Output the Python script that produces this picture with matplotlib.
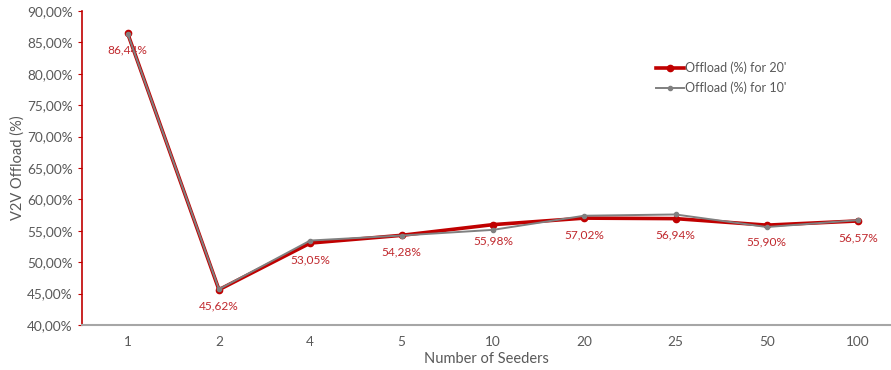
import matplotlib.pyplot as plt
from matplotlib.ticker import FuncFormatter

# datos
seeders = ['1', '2', '4', '5', '10', '20', '25', '50', '100']
offload_20 = [86.44, 45.62, 53.05, 54.28, 55.98, 57.02, 56.94, 55.90, 56.57]
offload_10 = [86.40, 45.70, 53.45, 54.25, 55.15, 57.40, 57.60, 55.60, 56.70]

red = '#C00000'
gray = '#808080'
txt = '#595959'

plt.rcParams['font.family'] = ['Lato', 'DejaVu Sans']

fig = plt.figure(figsize=(8.91, 3.70), dpi=100)
ax = fig.add_axes([0.092, 0.1216, 0.907, 0.8487])

x = range(len(seeders))
ax.plot(x, offload_20, color=red, lw=2.6, marker='o', ms=4.5,
        label="Offload (%) for 20'", zorder=3)
ax.plot(x, offload_10, color=gray, lw=1.4, marker='o', ms=3,
        label="Offload (%) for 10'", zorder=4)

for xi, v in zip(x, offload_20):
    ax.annotate(f'{v:.2f}%'.replace('.', ','), (xi, v), xytext=(0, -8),
                textcoords='offset points', ha='center', va='top',
                fontsize=8.6, color='#C0282D')

ax.set_ylim(40, 90)
ax.set_yticks(range(40, 91, 5))
ax.yaxis.set_major_formatter(FuncFormatter(lambda v, p: f'{v:.2f}%'.replace('.', ',')))
ax.set_xlim(-0.5, 8.35)
ax.set_xticks(list(x))
ax.set_xticklabels(seeders)

ax.spines['top'].set_visible(False)
ax.spines['right'].set_visible(False)
ax.spines['left'].set_color(red)
ax.spines['left'].set_linewidth(1.2)
ax.spines['bottom'].set_color('#A6A6A6')
ax.spines['bottom'].set_linewidth(1.5)
ax.tick_params(axis='y', colors=red, labelcolor=txt, labelsize=9.8, length=3, direction='out')
ax.tick_params(axis='x', length=0, labelcolor=txt, labelsize=9.8, pad=8)

ax.set_ylabel('V2V Offload (%)', color=txt, fontsize=10.5, labelpad=2)
ax.set_xlabel('Number of Seeders', color=txt, fontsize=10.5, labelpad=3)

leg = ax.legend(loc='upper left', bbox_to_anchor=(0.697, 0.875), frameon=False,
                fontsize=9, handlelength=2.2, handletextpad=0.1, labelspacing=0.6)
for t in leg.get_texts():
    t.set_color(txt)

fig.savefig('out.png', dpi=100)
